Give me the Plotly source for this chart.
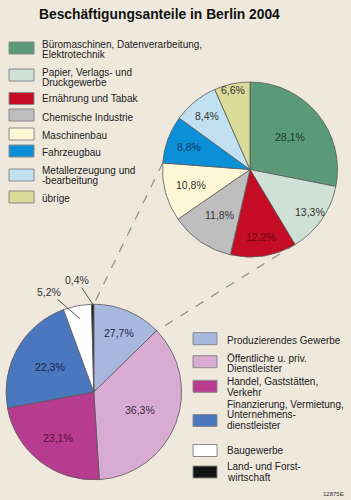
import math
import plotly.graph_objects as go

W, H = 351, 500
FONT = "Liberation Sans, Arial, Helvetica, sans-serif"

# ---------------- data ----------------
title_text = "Beschäftigungsanteile in Berlin 2004"

top_labels = [
    "Büromaschinen, Datenverarbeitung,<br>Elektrotechnik",
    "Papier, Verlags- und<br>Druckgewerbe",
    "Ernährung und Tabak",
    "Chemische Industrie",
    "Maschinenbau",
    "Fahrzeugbau",
    "Metallerzeugung und<br>-bearbeitung",
    "übrige",
]
top_values = [28.1, 13.3, 12.2, 11.8, 10.8, 8.8, 8.4, 6.6]
top_text = ["28,1%", "13,3%", "12,2%", "11,8%", "10,8%", "8,8%", "8,4%", "6,6%"]

bottom_labels = [
    "Produzierendes Gewerbe",
    "Öffentliche u. priv.<br>Dienstleister",
    "Handel, Gaststätten,<br>Verkehr",
    "Finanzierung, Vermietung,<br>Unternehmens-<br>dienstleister",
    "Baugewerbe",
    "Land- und Forst-<br>wirtschaft",
]
# slice sizes as drawn in the picture
bottom_values = [12.7, 36.3, 23.1, 22.3, 5.2, 0.4]
bottom_text = ["27,7%", "36,3%", "23,1%", "22,3%", "5,2%", "0,4%"]

source_code = "12875E"

# ---------------- styles ----------------
bg = "#efe9dd"
top_colors = ["#5a9a79", "#cfe1d6", "#c40d24", "#bebebf", "#fdf7d6", "#0b8fd6", "#c1e0f2", "#dadb96"]
top_textcolors = ["#1e3a2c", "#333333", "#6a0612", "#333333", "#333333", "#0f3f6e", "#333333", "#333333"]
top_label_r = [0.59, 0.84, 0.78, 0.63, 0.70, 0.74, 0.78, 0.93]

bottom_colors = ["#a9b8df", "#d9aad2", "#b73b8e", "#4a77bd", "#ffffff", "#141414"]
bottom_textcolors = ["#1e2848", "#3a2a48", "#5a0c40", "#14285a", "#333333", "#333333"]
bottom_label_r = [0.73, 0.56, 0.66, 0.57, None, None]

# pie geometry (pixels)
top_c, top_r = (250.0, 169.5), 87.5
bot_c, bot_r = (93.8, 392.0), 87.8

LEG_FONT = 10.0
top_legend_y = [44.3, 72, 99, 117, 135, 152, 170, 198]
top_box_y = [48, 75, 98.5, 115, 134, 151, 175, 197]
top_line_h = 10.4
bot_legend_y = [340, 358.3, 381.7, 404.5, 450.7, 466.7]
bot_box_y = [338.7, 361.7, 386.3, 420.5, 450.5, 472]
bot_line_h = 10.4


def px(x):
    return x / W


def py(y):
    return 1 - y / H


def pt(center, r, frac, rf):
    a = 2 * math.pi * frac
    return center[0] + r * rf * math.sin(a), center[1] - r * rf * math.cos(a)


def domain(center, r):
    return dict(x=[px(center[0] - r), px(center[0] + r)],
                y=[py(center[1] + r), py(center[1] - r)])


fig = go.Figure()
for vals, cols, c, r in [(top_values, top_colors, top_c, top_r),
                         (bottom_values, bottom_colors, bot_c, bot_r)]:
    fig.add_trace(go.Pie(
        values=vals, sort=False, direction="clockwise", rotation=0,
        marker=dict(colors=cols, line=dict(color="#5a5a5a", width=0.8)),
        textinfo="none", hoverinfo="skip", showlegend=False,
        domain=domain(c, r),
    ))

annotations = []
shapes = []


def add_text(x, y, text, size=LEG_FONT, color="#222222", xanchor="center", bold=False, **kw):
    annotations.append(dict(
        x=px(x), y=py(y), xref="paper", yref="paper", text=f"<b>{text}</b>" if bold else text,
        showarrow=False, xanchor=xanchor, yanchor="middle",
        font=dict(family=FONT, size=size, color=color), **kw))


# inside labels
def pie_labels(vals, texts, tcolors, rfs, c, r):
    total = sum(vals)
    cum = 0
    mids = []
    for v, t, tc, rf in zip(vals, texts, tcolors, rfs):
        mid = (cum + v / 2) / total
        mids.append(mid)
        if rf is not None:
            x, y = pt(c, r, mid, rf)
            add_text(x, y, t, size=10.5, color=tc)
        cum += v
    return mids


pie_labels(top_values, top_text, top_textcolors, top_label_r, top_c, top_r)
bmids = pie_labels(bottom_values, bottom_text, bottom_textcolors, bottom_label_r, bot_c, bot_r)

# outside labels with leader lines (Baugewerbe, Land- und Forstwirtschaft)
for idx, rf, ax, ay in [(4, 0.85, -31, -27), (5, 1.0, -16, -24)]:
    x, y = pt(bot_c, bot_r, bmids[idx], rf)
    annotations.append(dict(
        x=px(x), y=py(y), xref="paper", yref="paper", text=bottom_text[idx],
        showarrow=True, arrowhead=0, arrowwidth=0.9, arrowcolor="#444444",
        ax=ax, ay=ay, standoff=0,
        font=dict(family=FONT, size=10.5, color="#333333")))

# dashed connector lines
ttot, btot = sum(top_values), sum(bottom_values)
a1 = pt(top_c, top_r, sum(top_values[:2]) / ttot, 1.0)
b1 = pt(bot_c, bot_r, bottom_values[0] / btot, 1.0)
a2 = pt(top_c, top_r, sum(top_values[:5]) / ttot, 1.0)
b2 = pt(bot_c, bot_r, 0.0, 1.0)
for a, b in [(a1, b1), (a2, b2)]:
    shapes.append(dict(type="line", xref="paper", yref="paper",
                       x0=px(a[0]), y0=py(a[1]), x1=px(b[0]), y1=py(b[1]),
                       line=dict(color="#8c8c8c", width=1.2, dash="dash"), layer="below"))


# legends
def legend(labels, cols, ys, bys, lh, bx0, bx1, tx):
    for lab, col, y0, by in zip(labels, cols, ys, bys):
        shapes.append(dict(type="rect", xref="paper", yref="paper",
                           x0=px(bx0), x1=px(bx1), y0=py(by + 6), y1=py(by - 6),
                           fillcolor=col, line=dict(color="#8a8a8a", width=1)))
        for i, line in enumerate(lab.split("<br>")):
            add_text(tx, y0 + i * lh, line, xanchor="left")


legend(top_labels, top_colors, top_legend_y, top_box_y, top_line_h, 9, 34, 40)
legend(bottom_labels, bottom_colors, bot_legend_y, bot_box_y, bot_line_h, 193, 217, 225)

add_text(159, 14, title_text, size=13.8, color="#111111", bold=True)
add_text(346, 494, source_code, size=6, color="#333333", xanchor="right")

fig.update_layout(
    width=W, height=H, margin=dict(l=0, r=0, t=0, b=0),
    paper_bgcolor=bg, plot_bgcolor=bg,
    annotations=annotations, shapes=shapes,
)
fig.write_html("out.html")
